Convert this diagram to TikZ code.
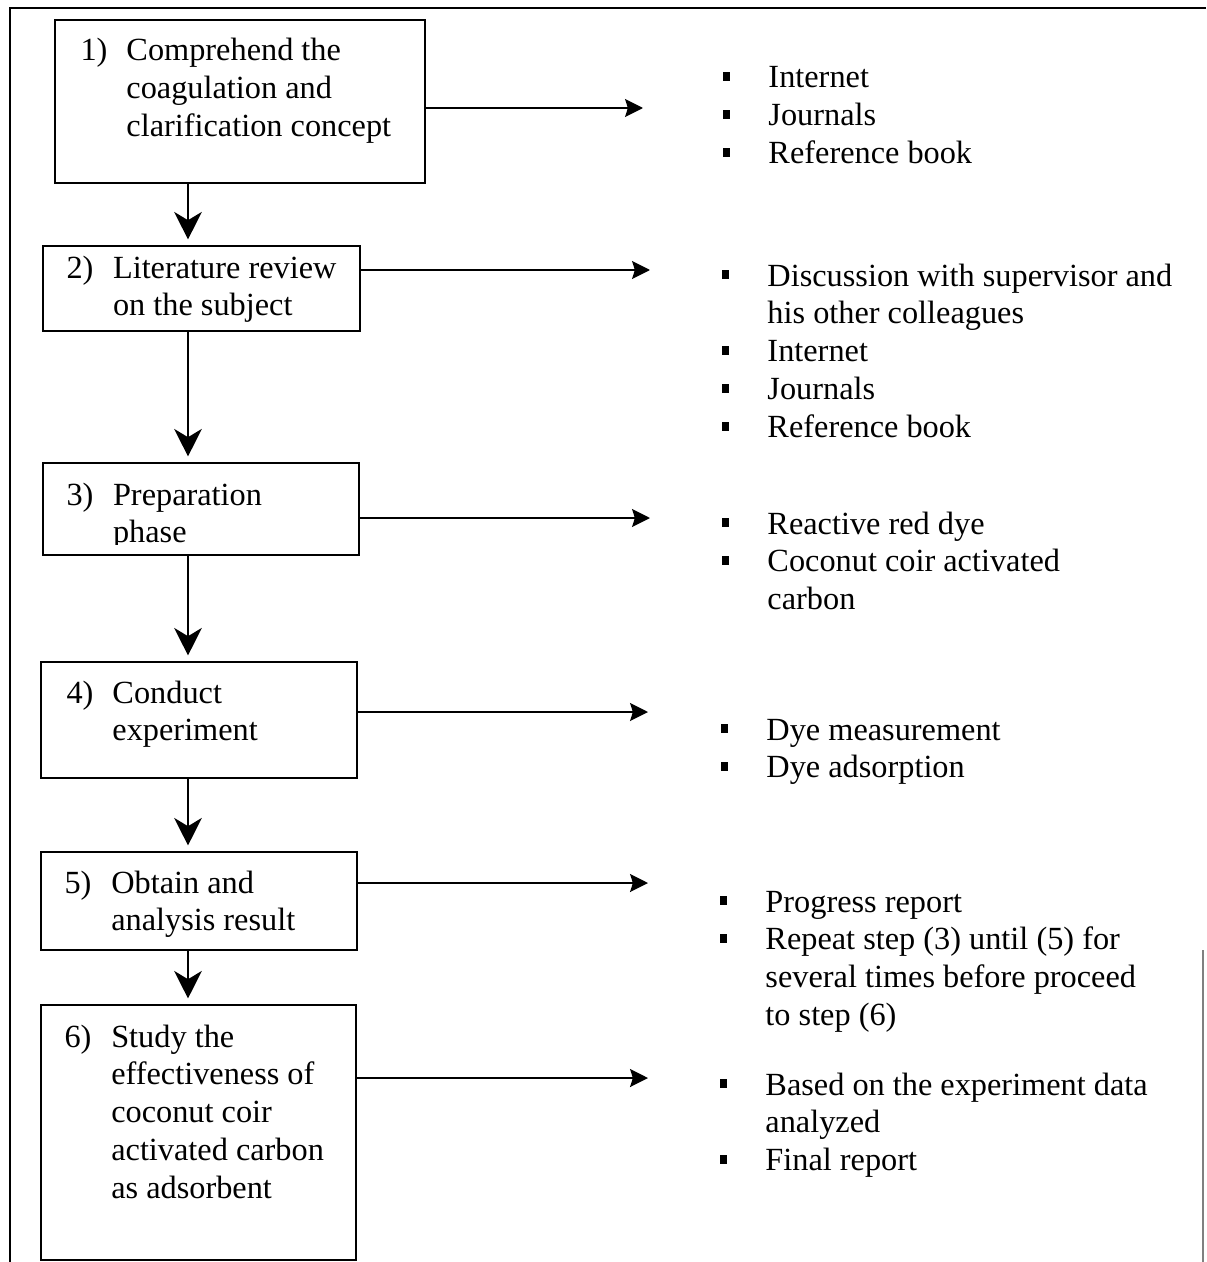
\documentclass[tikz,border=0pt]{standalone}
\usepackage{fontspec}
\setmainfont{Liberation Serif}
\usetikzlibrary{arrows.meta,fit}
\newcommand\sqbullet{\raisebox{2.6pt}{\rule{2.8pt}{3.3pt}}}
\begin{document}
\begin{tikzpicture}[x=0.3636pt,y=-0.3636pt,
  stepbox/.style={draw,line width=0.75pt,inner sep=0pt},
  steptext/.style={anchor=base west,inner sep=0pt,font=\fontsize{11.75}{13.8}\selectfont},
  downarrow/.style={line width=0.7pt,-{Stealth[length=10pt,width=10pt,inset=3pt]},shorten >=2pt},
  outarrow/.style={line width=0.8pt,-{Stealth[length=6.5pt,width=6.5pt,inset=1pt]}}]
\useasboundingbox (0,0) rectangle (1206,1262);
% frame
\draw[line width=0.75pt] (10,1262) -- (10,8) -- (1206,8);
\draw[line width=0.4pt,gray] (1203,950) -- (1203,1262);
% step boxes
\node[stepbox,fit={(55,20) (425,183)}] (b1) {};
\node[stepbox,fit={(43,246) (360,331)}] (b2) {};
\node[stepbox,fit={(43,463) (359,555)}] (b3) {};
\node[stepbox,fit={(41,662) (357,778)}] (b4) {};
\node[stepbox,fit={(41,852) (357,950)}] (b5) {};
\node[stepbox,fit={(41,1005) (356,1260)}] (b6) {};
% step texts
\node[steptext] (t1) at (80,61) {\begin{tabular}[t]{@{}p{16.7pt}@{}l@{}}1) & Comprehend the\\ & coagulation and\\ & clarification concept\end{tabular}};
\node[steptext] (t2) at (66,278) {\begin{tabular}[t]{@{}p{16.9pt}@{}l@{}}2) & Literature review\\ & on the subject\end{tabular}};
\begin{scope}
\clip (43,463) rectangle (359,544);
\node[steptext] (t3) at (66,505) {\begin{tabular}[t]{@{}p{16.9pt}@{}l@{}}3) & Preparation\\ & phase\end{tabular}};
\end{scope}
\node[steptext] (t4) at (66,703) {\begin{tabular}[t]{@{}p{16.7pt}@{}l@{}}4) & Conduct\\ & experiment\end{tabular}};
\node[steptext] (t5) at (64,893) {\begin{tabular}[t]{@{}p{17pt}@{}l@{}}5) & Obtain and\\ & analysis result\end{tabular}};
\node[steptext] (t6) at (64,1047) {\begin{tabular}[t]{@{}p{17pt}@{}l@{}}6) & Study the\\ & effectiveness of\\ & coconut coir\\ & activated carbon\\ & as adsorbent\end{tabular}};
% bullet lists
\node[steptext] (l1) at (722,88) {\begin{tabular}[t]{@{}p{16.7pt}@{}l@{}}\sqbullet & Internet\\ \sqbullet & Journals\\ \sqbullet & Reference book\end{tabular}};
\node[steptext] (l2) at (721,286) {\begin{tabular}[t]{@{}p{16.7pt}@{}l@{}}\sqbullet & Discussion with supervisor and\\ & his other colleagues\\ \sqbullet & Internet\\ \sqbullet & Journals\\ \sqbullet & Reference book\end{tabular}};
\node[steptext] (l3) at (721,534) {\begin{tabular}[t]{@{}p{16.7pt}@{}l@{}}\sqbullet & Reactive red dye\\ \sqbullet & Coconut coir activated\\ & carbon\end{tabular}};
\node[steptext] (l4) at (720,740) {\begin{tabular}[t]{@{}p{16.7pt}@{}l@{}}\sqbullet & Dye measurement\\ \sqbullet & Dye adsorption\end{tabular}};
\node[steptext] (l5) at (719,912) {\begin{tabular}[t]{@{}p{16.7pt}@{}l@{}}\sqbullet & Progress report\\ \sqbullet & Repeat step (3) until (5) for\\ & several times before proceed\\ & to step (6)\end{tabular}};
\node[steptext] (l6) at (719,1095) {\begin{tabular}[t]{@{}p{16.7pt}@{}l@{}}\sqbullet & Based on the experiment data\\ & analyzed\\ \sqbullet & Final report\end{tabular}};
% arrows down
\coordinate (spine) at (188,0);
\draw[downarrow] (b1.south -| spine) -- (b2.north -| spine);
\draw[downarrow] (b2.south -| spine) -- (b3.north -| spine);
\draw[downarrow] (b3.south -| spine) -- (b4.north -| spine);
\draw[downarrow] (b4.south -| spine) -- (b5.north -| spine);
\draw[downarrow] (b5.south -| spine) -- (b6.north -| spine);
% arrows to the lists
\coordinate (e1) at (643,108);
\coordinate (e2) at (650,270);
\coordinate (e3) at (650,518);
\coordinate (e4) at (648,712);
\coordinate (e5) at (648,883);
\coordinate (e6) at (648,1078);
\draw[outarrow] (e1 -| b1.east) -- (e1);
\draw[outarrow] (e2 -| b2.east) -- (e2);
\draw[outarrow] (e3 -| b3.east) -- (e3);
\draw[outarrow] (e4 -| b4.east) -- (e4);
\draw[outarrow] (e5 -| b5.east) -- (e5);
\draw[outarrow] (e6 -| b6.east) -- (e6);
\end{tikzpicture}
\end{document}
